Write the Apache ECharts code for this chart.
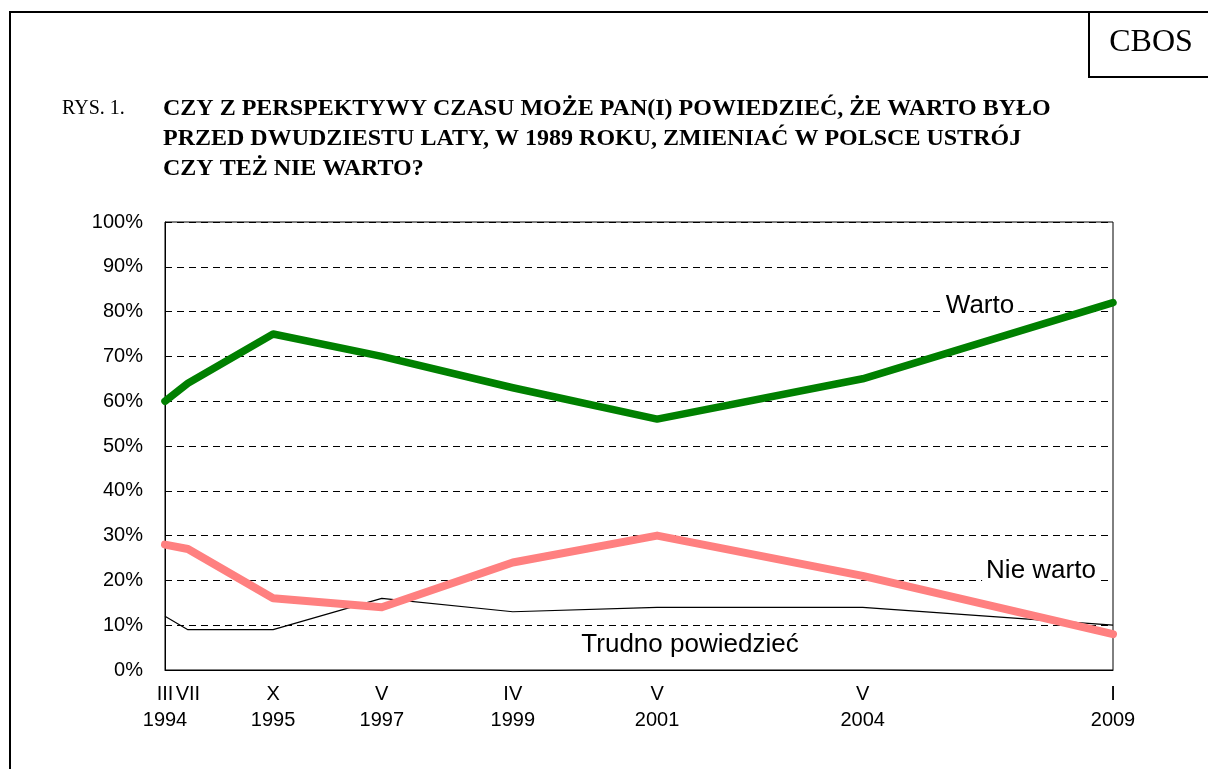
<!DOCTYPE html>
<html>
<head>
<meta charset="utf-8">
<script src="https://cdn.jsdelivr.net/npm/echarts@6/dist/echarts.min.js"></script>
<style>
    html, body { margin: 0; padding: 0; background: #fff; }
    #chart { width: 1208px; height: 769px; }
</style>
</head>
<body>
<div id="chart"></div>
<script>
// pozycje badań na osi czasu (miesiące od III 1994)
const xPos = [0, 4.3, 20.3, 40.7, 65.3, 92.4, 131, 178];
const monthLabels = ['III', 'VII', 'X', 'V', 'IV', 'V', 'V', 'I'];
const yearLabels = ['1994', '', '1995', '1997', '1999', '2001', '2004', '2009'];

const warto = [60, 64, 75, 70, 63, 56, 65, 82];
const nieWarto = [28, 27, 16, 14, 24, 30, 21, 8];
const trudno = [12, 9, 9, 16, 13, 14, 14, 10];

const toPairs = (vals) => vals.map((v, i) => [xPos[i], v]);

const chart = echarts.init(document.getElementById('chart'));

const sans = 'Liberation Sans, Arial, sans-serif';
const serif = 'Liberation Serif, Times New Roman, serif';

const labelFor = (v) => {
    let idx = 0;
    xPos.forEach((p, i) => {
        if (Math.abs(p - v) < Math.abs(xPos[idx] - v)) idx = i;
    });
    return monthLabels[idx] + '\n' + yearLabels[idx];
};

const xLabelStyle = {
    hideOverlap: false,
    showMinLabel: true,
    showMaxLabel: true,
    margin: 11,
    fontFamily: sans,
    fontSize: 20,
    lineHeight: 26,
    color: '#000',
    verticalAlign: 'top',
    formatter: labelFor,
};

// etykieta VII 1994 leży tuż obok III 1994, więc idzie na osobną (niewidoczną) oś
const mainTicks = xPos.filter((p, i) => i !== 1);
const extraTicks = [xPos[1]];

const option = {
    backgroundColor: '#fff',
    animation: false,
    grid: {
        left: 165,
        right: 95,
        top: 222,
        bottom: 99,
        show: true,
        borderColor: '#000',
        borderWidth: 1,
    },
    xAxis: [
        {
            type: 'value',
            min: 0,
            max: 178,
            axisLine: { show: true, lineStyle: { color: '#000', width: 1 } },
            axisTick: { show: false },
            splitLine: { show: false },
            axisLabel: { ...xLabelStyle, customValues: mainTicks },
        },
        {
            type: 'value',
            position: 'bottom',
            min: 0,
            max: 178,
            axisLine: { show: false },
            axisTick: { show: false },
            splitLine: { show: false },
            axisLabel: { ...xLabelStyle, customValues: extraTicks },
        },
    ],
    yAxis: {
        type: 'value',
        min: 0,
        max: 100,
        interval: 10,
        axisLine: { show: true, lineStyle: { color: '#000', width: 1 } },
        axisTick: { show: false },
        axisLabel: {
            formatter: '{value}%',
            margin: 22,
            fontFamily: sans,
            fontSize: 20,
            color: '#000',
        },
        splitLine: {
            show: true,
            lineStyle: { color: '#000', width: 1, type: [7, 5] },
        },
    },
    series: [
        {
            name: 'Trudno powiedzieć',
            type: 'line',
            data: toPairs(trudno),
            showSymbol: false,
            clip: false,
            lineStyle: { color: '#000', width: 1.2 },
            z: 2,
        },
        {
            name: 'Nie warto',
            type: 'line',
            data: toPairs(nieWarto),
            showSymbol: false,
            clip: false,
            lineStyle: { color: '#ff8080', width: 8, cap: 'round', join: 'round' },
            z: 3,
        },
        {
            name: 'Warto',
            type: 'line',
            data: toPairs(warto),
            showSymbol: false,
            clip: false,
            lineStyle: { color: '#008000', width: 7.5, cap: 'round', join: 'round' },
            z: 4,
        },
    ],
    graphic: [
        // ramka strony
        {
            type: 'polyline',
            shape: { points: [[10, 769], [10, 12], [1208, 12]] },
            style: { stroke: '#000', lineWidth: 2, fill: null },
        },
        {
            type: 'polyline',
            shape: { points: [[1089, 12], [1089, 77], [1208, 77]] },
            style: { stroke: '#000', lineWidth: 2, fill: null },
        },
        {
            type: 'text',
            x: 1151, y: 43,
            style: { text: 'CBOS', font: '32px ' + serif, fill: '#000', align: 'center', verticalAlign: 'middle' },
        },
        {
            type: 'text',
            x: 62, y: 109,
            style: { text: 'RYS. 1.', font: '20px ' + serif, fill: '#000', verticalAlign: 'middle' },
        },
        {
            type: 'text',
            x: 163, y: 94,
            style: {
                text: 'CZY Z PERSPEKTYWY CZASU MOŻE PAN(I) POWIEDZIEĆ, ŻE WARTO BYŁO\nPRZED DWUDZIESTU LATY, W 1989 ROKU, ZMIENIAĆ W POLSCE USTRÓJ\nCZY TEŻ NIE WARTO?',
                font: 'bold 24px ' + serif,
                lineHeight: 30,
                fill: '#000',
                verticalAlign: 'top',
            },
        },
        // etykiety serii
        {
            type: 'text',
            x: 980, y: 306,
            style: { text: 'Warto', font: '26px ' + sans, fill: '#000', align: 'center', verticalAlign: 'middle', backgroundColor: '#fff', padding: [0, 4] },
            z: 10,
        },
        {
            type: 'text',
            x: 1041, y: 571,
            style: { text: 'Nie warto', font: '26px ' + sans, fill: '#000', align: 'center', verticalAlign: 'middle', backgroundColor: '#fff', padding: [0, 4] },
            z: 10,
        },
        {
            type: 'text',
            x: 690, y: 645,
            style: { text: 'Trudno powiedzieć', font: '26px ' + sans, fill: '#000', align: 'center', verticalAlign: 'middle', backgroundColor: '#fff', padding: [0, 4] },
            z: 10,
        },
    ],
};

chart.setOption(option);
</script>
</body>
</html>
